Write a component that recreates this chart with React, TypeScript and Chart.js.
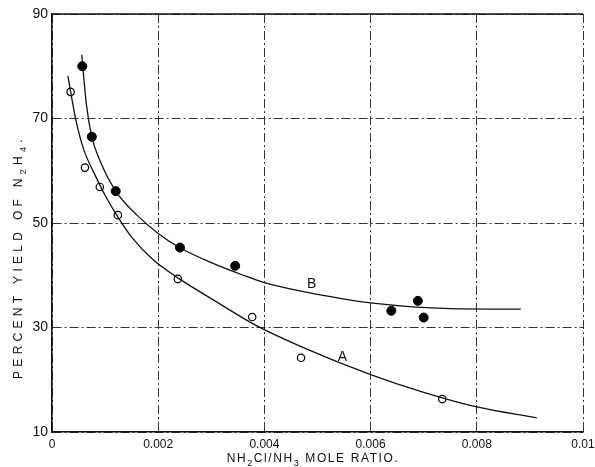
import { useEffect, useRef } from "react";
import { Chart, registerables } from "chart.js";

Chart.register(...registerables);

// Tick values and labels
const xTickValues = [0, 0.002, 0.004, 0.006, 0.008, 0.01];
const xTickLabels = ["0", "0.002", "0.004", "0.006", "0.008", "0.01"];
const yTickValues = [10, 30, 50, 70, 90];
const yTickLabels = ["10", "30", "50", "70", "90"];

// Series B (filled circles)
const bPointsX = [0.00057, 0.00075, 0.0012, 0.00241, 0.00345, 0.00639, 0.00689, 0.007];
const bPointsY = [80.0, 66.5, 56.1, 45.3, 41.8, 33.2, 35.1, 31.9];

// Series A (open circles)
const aPointsX = [0.00035, 0.00062, 0.0009, 0.00124, 0.00237, 0.00377, 0.00469, 0.00735];
const aPointsY = [75.1, 60.6, 56.9, 51.5, 39.3, 32.0, 24.2, 16.3];

// Fitted curve B
const bCurveX = [0.00056, 0.00065, 0.00075, 0.0009, 0.0012, 0.0016, 0.002, 0.0024, 0.003, 0.0036, 0.004, 0.00467, 0.00525, 0.006, 0.0075, 0.00883];
const bCurveY = [82.2, 72.5, 66.5, 62.0, 56.1, 51.5, 48.0, 45.3, 42.4, 40.0, 38.6, 37.0, 35.9, 34.7, 33.6, 33.5];

// Fitted curve A
const aCurveX = [0.0003, 0.00045, 0.0006, 0.0008, 0.001, 0.0012, 0.0015, 0.0019, 0.0024, 0.0031, 0.00386, 0.0047, 0.006, 0.007, 0.008, 0.00913];
const aCurveY = [78.1, 69.7, 64.0, 59.4, 55.3, 51.8, 47.3, 43.0, 39.3, 34.9, 30.3, 26.3, 21.0, 17.6, 14.8, 12.7];

// Curve labels
const curveLabels = [
  { text: "B", x: 0.00489, y: 38.3 },
  { text: "A", x: 0.00547, y: 24.4 },
];

const FONT = "'Liberation Sans', 'DejaVu Sans', sans-serif";

const zip = (xs: number[], ys: number[]) => xs.map((x, i) => ({ x, y: ys[i] }));

type Seg = [string, boolean];

function drawSegs(ctx: CanvasRenderingContext2D, segs: Seg[], size: number, spacing: number) {
  const subSize = Math.round(size * 0.72);
  let total = 0;
  const widths: number[] = [];
  segs.forEach(([t, sub]) => {
    ctx.font = `${sub ? subSize : size}px ${FONT}`;
    (ctx as any).letterSpacing = `${spacing}px`;
    const w = ctx.measureText(t).width;
    widths.push(w);
    total += w;
  });
  let x = -total / 2;
  segs.forEach(([t, sub], i) => {
    ctx.font = `${sub ? subSize : size}px ${FONT}`;
    (ctx as any).letterSpacing = `${spacing}px`;
    ctx.fillText(t, x, sub ? size * 0.3 : 0);
    x += widths[i];
  });
  (ctx as any).letterSpacing = "0px";
}

const extrasPlugin = {
  id: "extras",
  afterDraw(chart: any) {
    const { ctx, chartArea, scales } = chart;
    ctx.save();
    // solid top frame line
    ctx.strokeStyle = "#111";
    ctx.lineWidth = 1.5;
    ctx.beginPath();
    ctx.moveTo(chartArea.left, chartArea.top);
    ctx.lineTo(chartArea.right, chartArea.top);
    ctx.stroke();

    ctx.fillStyle = "#111";
    // curve labels
    curveLabels.forEach((l) => {
      ctx.font = `14px ${FONT}`;
      const px = scales.x.getPixelForValue(l.x);
      const py = scales.y.getPixelForValue(l.y);
      ctx.textAlign = "center";
      ctx.textBaseline = "middle";
      ctx.fillText(l.text, px, py);
    });
    ctx.textAlign = "left";
    ctx.textBaseline = "alphabetic";

    // y title
    ctx.save();
    ctx.translate(22, 257);
    ctx.rotate(-Math.PI / 2);
    drawSegs(
      ctx,
      [
        ["PERCENT YIELD OF N", false],
        ["2", true],
        ["H", false],
        ["4", true],
        [".", false],
      ],
      12,
      4.3
    );
    ctx.restore();

    // x title
    ctx.save();
    ctx.translate(313, 462);
    drawSegs(
      ctx,
      [
        ["NH", false],
        ["2", true],
        ["Cl/NH", false],
        ["3", true],
        [" MOLE RATIO.", false],
      ],
      12,
      1.6
    );
    ctx.restore();

    ctx.restore();
  },
};

export default function App() {
  const ref = useRef<HTMLCanvasElement | null>(null);

  useEffect(() => {
    document.body.style.margin = "0";
    const canvas = ref.current;
    if (!canvas) return;
    const chart = new Chart(canvas, {
      type: "scatter",
      data: {
        datasets: [
          {
            label: "B curve",
            data: zip(bCurveX, bCurveY),
            showLine: true,
            pointRadius: 0,
            borderColor: "#111",
            borderWidth: 1.3,
            cubicInterpolationMode: "monotone",
          },
          {
            label: "A curve",
            data: zip(aCurveX, aCurveY),
            showLine: true,
            pointRadius: 0,
            borderColor: "#111",
            borderWidth: 1.3,
            cubicInterpolationMode: "monotone",
          },
          {
            label: "B",
            data: zip(bPointsX, bPointsY),
            pointRadius: 4.5,
            backgroundColor: "#000",
            borderColor: "#000",
            borderWidth: 1,
          },
          {
            label: "A",
            data: zip(aPointsX, aPointsY),
            pointRadius: 3.7,
            backgroundColor: "#fff",
            borderColor: "#000",
            borderWidth: 1.2,
          },
        ],
      } as any,
      options: {
        responsive: false,
        animation: false,
        devicePixelRatio: 1,
        layout: { padding: { top: 14, right: 12, left: 0, bottom: 0 } },
        plugins: {
          legend: { display: false },
          tooltip: { enabled: false },
        },
        scales: {
          x: {
            type: "linear",
            min: 0,
            max: 0.01,
            afterBuildTicks: (s: any) => {
              s.ticks = xTickValues.map((v) => ({ value: v }));
            },
            afterFit: (s: any) => {
              s.height = 35;
              s.paddingLeft = 0;
              s.paddingRight = 0;
            },
            ticks: {
              callback: (_v: any, i: number) => xTickLabels[i],
              color: "#111",
              font: { family: FONT, size: 12 },
              padding: 5,
              maxRotation: 0,
              autoSkip: false,
            },
            grid: { color: "#333", lineWidth: 1, drawTicks: false },
            border: { display: true, color: "#111", width: 1.6, dash: [9, 3, 2, 3] },
          },
          y: {
            type: "linear",
            min: 10,
            max: 90,
            afterBuildTicks: (s: any) => {
              s.ticks = yTickValues.map((v) => ({ value: v }));
            },
            afterFit: (s: any) => {
              s.width = 52;
              s.paddingTop = 0;
              s.paddingBottom = 0;
            },
            ticks: {
              callback: (_v: any, i: number) => yTickLabels[i],
              color: "#111",
              font: { family: FONT, size: 14 },
              padding: 4,
              autoSkip: false,
            },
            grid: { color: "#333", lineWidth: 1, drawTicks: false },
            border: { display: true, color: "#111", width: 1.6, dash: [9, 3, 2, 3] },
          },
        },
      } as any,
      plugins: [extrasPlugin],
    });
    return () => chart.destroy();
  }, []);

  return <canvas ref={ref} width={595} height={467} style={{ display: "block" }} />;
}
